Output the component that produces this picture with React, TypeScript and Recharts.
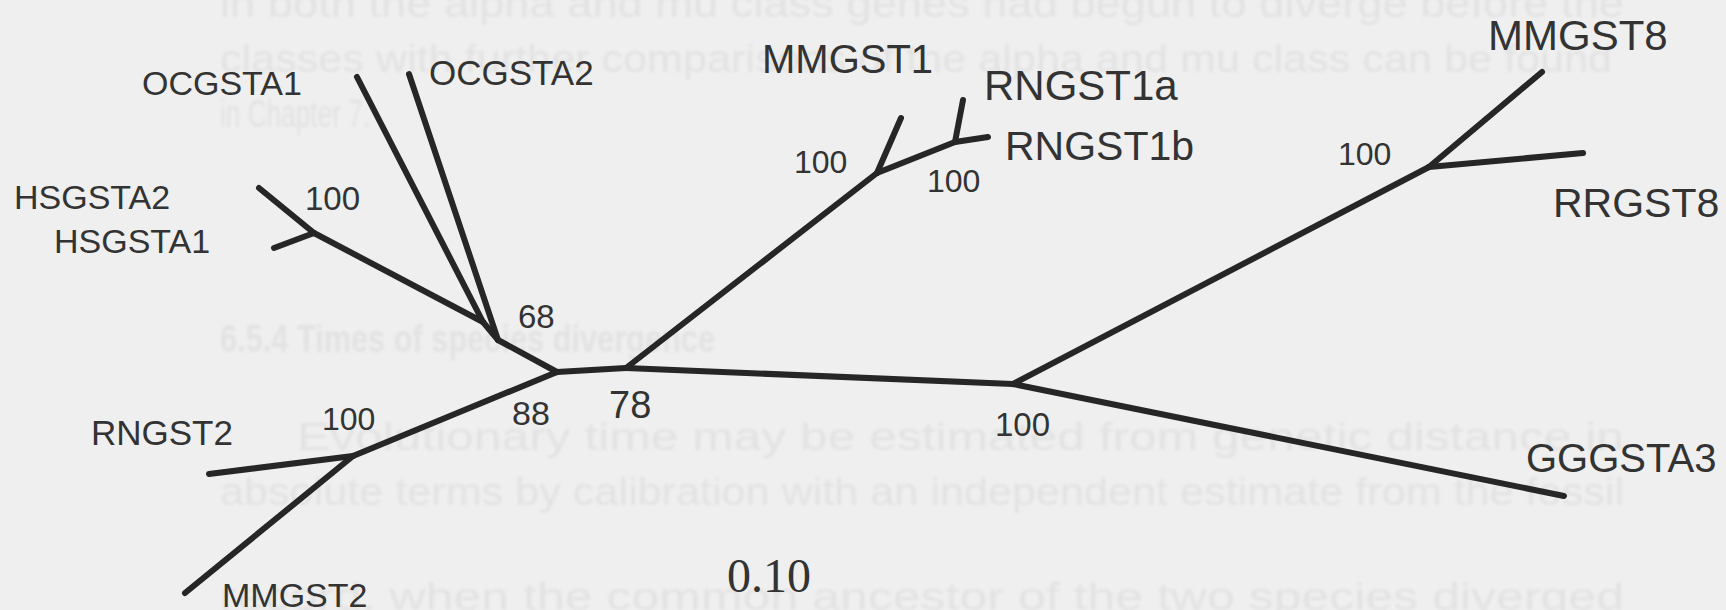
import { ComposedChart, Line, Scatter, XAxis, YAxis } from "recharts";

const W = 1726;
const H = 610;

// tree layout in page units (x to the right, y downwards)
const tips = [
  { id: "HSGSTA2", x: 259, y: 188 },
  { id: "HSGSTA1", x: 274, y: 248 },
  { id: "OCGSTA1", x: 357, y: 77 },
  { id: "OCGSTA2", x: 409, y: 74 },
  { id: "RNGST2", x: 209, y: 474 },
  { id: "MMGST2", x: 185, y: 593 },
  { id: "MMGST1", x: 901, y: 118 },
  { id: "RNGST1a", x: 963, y: 100 },
  { id: "RNGST1b", x: 988, y: 137 },
  { id: "MMGST8", x: 1542, y: 72 },
  { id: "RRGST8", x: 1583, y: 153 },
  { id: "GGGSTA3", x: 1564, y: 496 },
];

const innerNodes = [
  { id: "hs", x: 314, y: 233 },
  { id: "oc1", x: 483, y: 322 },
  { id: "n68", x: 498, y: 340 },
  { id: "n88", x: 557, y: 372 },
  { id: "n2", x: 353, y: 456 },
  { id: "n78", x: 626, y: 368 },
  { id: "n1", x: 877, y: 173 },
  { id: "n1ab", x: 955, y: 142 },
  { id: "n100", x: 1013, y: 384 },
  { id: "n8", x: 1429, y: 167 },
];

const branches: [string, string][] = [
  ["HSGSTA2", "hs"],
  ["HSGSTA1", "hs"],
  ["hs", "oc1"],
  ["OCGSTA1", "oc1"],
  ["oc1", "n68"],
  ["OCGSTA2", "n68"],
  ["n68", "n88"],
  ["n88", "n2"],
  ["n2", "RNGST2"],
  ["n2", "MMGST2"],
  ["n88", "n78"],
  ["n78", "n1"],
  ["n1", "MMGST1"],
  ["n1", "n1ab"],
  ["n1ab", "RNGST1a"],
  ["n1ab", "RNGST1b"],
  ["n78", "n100"],
  ["n100", "n8"],
  ["n8", "MMGST8"],
  ["n8", "RRGST8"],
  ["n100", "GGGSTA3"],
];

// name labels: left edge, baseline, font size
const tipLabels = [
  { text: "OCGSTA1", x: 142, y: 95, size: 34 },
  { text: "OCGSTA2", x: 429, y: 85, size: 35 },
  { text: "MMGST1", x: 762, y: 73, size: 40 },
  { text: "RNGST1a", x: 984, y: 100, size: 42 },
  { text: "RNGST1b", x: 1005, y: 160, size: 41 },
  { text: "MMGST8", x: 1488, y: 50, size: 42 },
  { text: "RRGST8", x: 1553, y: 217, size: 41 },
  { text: "HSGSTA2", x: 14, y: 209, size: 34 },
  { text: "HSGSTA1", x: 54, y: 253, size: 34 },
  { text: "GGGSTA3", x: 1526, y: 472, size: 40 },
  { text: "RNGST2", x: 91, y: 445, size: 35 },
  { text: "MMGST2", x: 222, y: 607, size: 34 },
];

const bootstrap = [
  { text: "100", x: 305, y: 210, size: 33 },
  { text: "68", x: 518, y: 328, size: 33 },
  { text: "88", x: 512, y: 425, size: 34 },
  { text: "78", x: 609, y: 418, size: 38 },
  { text: "100", x: 322, y: 430, size: 32 },
  { text: "100", x: 995, y: 436, size: 33 },
  { text: "100", x: 794, y: 173, size: 32 },
  { text: "100", x: 927, y: 192, size: 32 },
  { text: "100", x: 1338, y: 165, size: 32 },
];

const scaleLabel = [{ text: "0.10", x: 727, y: 592, size: 48, serif: true }];

// faint text showing through from the other side of the page
const pageLines = [
  { text: "in both the alpha and mu class genes had begun to diverge before the", x: 220, y: 17, len: 1404, bold: false },
  { text: "classes with further comparisons of the alpha and mu class can be found", x: 220, y: 72, len: 1392, bold: false },
  { text: "in Chapter 7.", x: 220, y: 127, len: 150, bold: false },
  { text: "6.5.4  Times of species divergence", x: 220, y: 352, len: 495, bold: true },
  { text: "Evolutionary time may be estimated from genetic distance in", x: 297, y: 450, len: 1327, bold: false },
  { text: "absolute terms by calibration with an independent estimate from the fossil", x: 220, y: 505, len: 1404, bold: false },
  { text: "record, when the common ancestor of the two species diverged", x: 220, y: 610, len: 1404, bold: false },
];

const allNodes = [...tips, ...innerNodes];
const findNode = (id: string) => allNodes.find((n) => n.id === id)!;

const segments = branches.map(([a, b]) => {
  const p = findNode(a);
  const q = findNode(b);
  return [
    { x: p.x, y: p.y },
    { x: q.x, y: q.y },
  ];
});

const labelData = [...tipLabels, ...bootstrap, ...scaleLabel];

function renderLabel(props: any) {
  const { cx, cy, payload } = props;
  return (
    <text
      x={cx}
      y={cy}
      fontSize={payload.size}
      fontFamily={payload.serif ? "'Liberation Serif', serif" : "'Liberation Sans', Arial, sans-serif"}
      fill="#333333"
    >
      {payload.text}
    </text>
  );
}

export default function App() {
  return (
    <div style={{ position: "absolute", left: 0, top: 0, width: W, height: H, background: "#efefef", overflow: "hidden" }}>
      <svg width={W} height={H} style={{ position: "absolute", left: 0, top: 0 }}>
        <defs>
          <filter id="ghost-blur">
            <feGaussianBlur stdDeviation="1.4" />
          </filter>
        </defs>
        <g filter="url(#ghost-blur)">
          {pageLines.map((l, i) => (
            <text
              key={i}
              x={l.x}
              y={l.y}
              fontSize={38}
              fontWeight={l.bold ? "bold" : "normal"}
              fontFamily="'Liberation Sans', Arial, sans-serif"
              textLength={l.len}
              lengthAdjust="spacingAndGlyphs"
              fill="#e2e2e2"
            >
              {l.text}
            </text>
          ))}
        </g>
      </svg>
      <div style={{ position: "absolute", left: 0, top: 0 }}>
        <ComposedChart width={W} height={H} margin={{ top: 0, right: 0, bottom: 0, left: 0 }}>
          <XAxis type="number" dataKey="x" domain={[0, W]} allowDataOverflow hide />
          <YAxis type="number" dataKey="y" domain={[0, H]} allowDataOverflow reversed hide />
          {segments.map((seg, i) => (
            <Line
              key={i}
              data={seg}
              dataKey="y"
              type="linear"
              stroke="#262626"
              strokeWidth={6}
              strokeLinecap="round"
              dot={false}
              activeDot={false}
              isAnimationActive={false}
            />
          ))}
          <Scatter data={labelData} dataKey="y" shape={renderLabel} isAnimationActive={false} />
        </ComposedChart>
      </div>
    </div>
  );
}
